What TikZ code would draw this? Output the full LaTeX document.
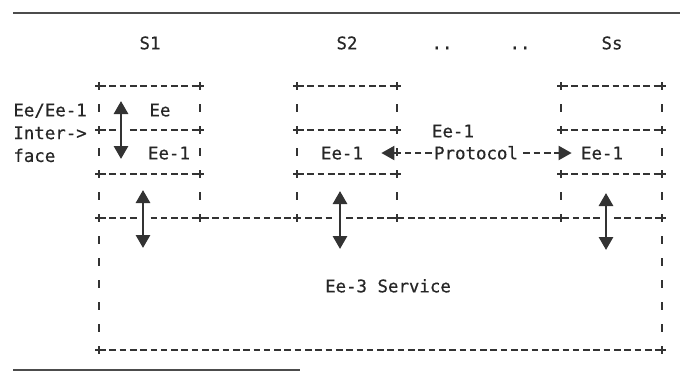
\documentclass[tikz,border=0pt]{standalone}
\usepackage{fontspec}
\newfontfamily\typefont[FakeBold=0.5]{DejaVu Sans Mono}
\usetikzlibrary{positioning,arrows.meta}
\tikzset{
  type text/.style={
    font=\typefont\fontsize{8.7pt}{10pt}\selectfont,
    text=black!85,
    inner sep=0pt,
    text height=6.3pt,
    text depth=0pt,
  },
  hline/.style={
    draw=black!80,
    line width=1pt,
    dash pattern=on 3.3pt off 1.85pt,
  },
  vline/.style={
    draw=black!80,
    line width=1pt,
    dash pattern=on 4pt off 7pt,
    dash phase=2pt,
  },
  cross/.style={
    draw=black!80,
    line width=1pt,
  },
  updown/.style={
    draw=black!80,
    line width=1.4pt,
    {Triangle[length=6.5pt,width=7pt]}-{Triangle[length=6.5pt,width=7pt]},
    preaction={draw=white,line width=5pt,-,shorten <=8pt,shorten >=8pt},
  },
  proto arrow/.style={
    draw=black!80,
    line width=1pt,
    dash pattern=on 3.3pt off 1.85pt,
    -{Triangle[length=6.5pt,width=7pt]},
  },
  rule/.style={
    draw=black!70,
    line width=0.8pt,
  }
}

\begin{document}
\begin{tikzpicture}[x=0.5pt, y=-0.5pt]
        \useasboundingbox (0,0) rectangle (680,372);
        \draw [rule] (13,13) -- (680,13);
        \draw [rule] (13,370) -- (300,370);

        % station titles
        \node [type text] (st1) at (150,43) {S1};
        \node [type text] (st2) at (347,43) {S2};
        \node [type text] (dots1) at (442,43) {..};
        \node [type text] (dots2) at (520,43) {..};
        \node [type text] (sts) at (612,43) {Ss};

        % layer boxes and the service box
        \foreach \l/\r in {99/200, 297/397, 561/662} {
          \foreach \y in {86,130,174}
            \draw [hline] (\l,\y) -- (\r,\y);
        }
        \draw [hline] (99,218) -- (662,218);
        \draw [hline] (99,350) -- (662,350);
        \draw [vline] (99,86) -- (99,350);
        \draw [vline] (200,86) -- (200,218);
        \draw [vline] (297,86) -- (297,218);
        \draw [vline] (397,86) -- (397,218);
        \draw [vline] (561,86) -- (561,218);
        \draw [vline] (662,86) -- (662,350);
        \foreach \x in {99,200,297,397,561,662} {
          \foreach \y in {86,130,174,218}
            \draw [cross] (\x,\y) +(-4,0) -- +(4,0) +(0,-4) -- +(0,4);
        }
        \draw [cross] (99,350) +(-4,0) -- +(4,0) +(0,-4) -- +(0,4);
        \draw [cross] (662,350) +(-4,0) -- +(4,0) +(0,-4) -- +(0,4);

        % interface label
        \node [type text, anchor=west] (if1) at (13,110) {Ee/Ee-1};
        \node [type text, below=4.7pt of if1.south west, anchor=north west] (if2) {Inter->};
        \node [type text, below=4.7pt of if2.south west, anchor=north west] (if3) {face};

        % layer names
        \node [type text] (s1ee) at (160,110) {Ee};
        \node [type text] (s1ee1) at (169,153) {Ee-1};
        \node [type text] (s2ee1) at (342,153) {Ee-1};
        \node [type text] (pname) at (453,131) {Ee-1};
        \node [type text] (proto) at (476,153) {Protocol};
        \node [type text] (ssee1) at (602,153) {Ee-1};
        \node [type text] (serv) at (388,286) {Ee-3 Service};

        % arrows
        \coordinate (ifhi) at (121,101);
        \coordinate (iflo) at (121,159);
        \coordinate (s1hi) at (143,190);
        \coordinate (s1lo) at (143,248);
        \coordinate (s2hi) at (340,191);
        \coordinate (s2lo) at (340,249);
        \coordinate (sshi) at (606,193);
        \coordinate (sslo) at (606,250);
        \draw [updown] (ifhi) -- (iflo);
        \draw [updown] (s1hi) -- (s1lo);
        \draw [updown] (s2hi) -- (s2lo);
        \draw [updown] (sshi) -- (sslo);
        \draw [proto arrow, shorten <=1pt, shorten >=9pt] (proto.west) -- (s2ee1.east);
        \draw [proto arrow, shorten <=2.5pt, shorten >=4.5pt] (proto.east) -- (ssee1.west);
      \end{tikzpicture}
\end{document}
